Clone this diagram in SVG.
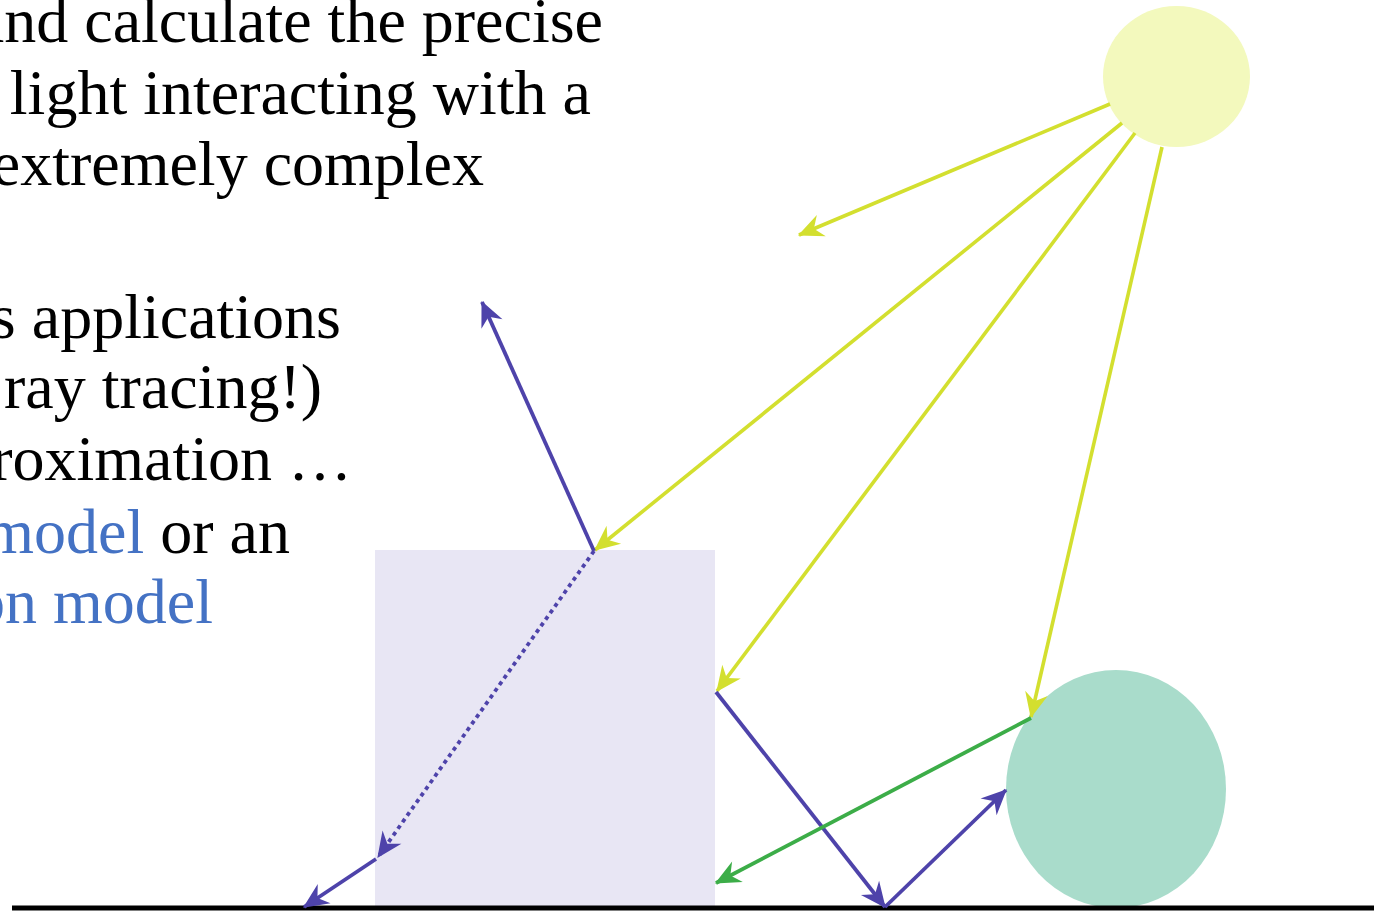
<svg xmlns="http://www.w3.org/2000/svg" width="1381" height="911" viewBox="0 0 1381 911">
<style>
.t{font-family:"Liberation Serif","Times New Roman",serif;font-size:64px;fill:#000;text-anchor:end}
.b{fill:#4472C4}
.y{stroke:#D3DF2F;stroke-width:3.6;fill:none}
.p{stroke:#4E43AA;stroke-width:3.8;fill:none}
.g{stroke:#3CAD48;stroke-width:3.8;fill:none}
</style>
<defs>
<marker id="ay" markerUnits="userSpaceOnUse" markerWidth="30" markerHeight="30" viewBox="-24 -12 26 24" refX="0" refY="0" orient="auto"><path d="M1 0 L-21 -10 L-14 0 L-21 10 Z" fill="#D3DF2F"/></marker>
<marker id="ap" markerUnits="userSpaceOnUse" markerWidth="30" markerHeight="30" viewBox="-24 -12 26 24" refX="0" refY="0" orient="auto"><path d="M1 0 L-21 -10 L-14 0 L-21 10 Z" fill="#4E43AA"/></marker>
<marker id="ag" markerUnits="userSpaceOnUse" markerWidth="30" markerHeight="30" viewBox="-24 -12 26 24" refX="0" refY="0" orient="auto"><path d="M1 0 L-21 -10 L-14 0 L-21 10 Z" fill="#3CAD48"/></marker>
</defs>
<g id="text">
<text class="t" x="603" y="42">and calculate the precise</text>
<text class="t" x="591" y="114">of light interacting with a</text>
<text class="t" x="484" y="185">extremely complex</text>
<text class="t" x="341" y="338">s applications</text>
<text class="t" x="322" y="408">ray tracing!)</text>
<text class="t" x="352" y="480">roximation …</text>
<text class="t" x="290" y="553"><tspan class="b">model</tspan> or an</text>
<text class="t b" x="213" y="623">on model</text>
</g>
<g id="sun"><ellipse cx="1176.5" cy="76.5" rx="73.5" ry="70.5" fill="#F3F9BD"/></g>
<g id="box"><rect x="375" y="550" width="340" height="358" fill="#E8E6F4"/></g>
<g id="ball"><ellipse cx="1116" cy="789" rx="110" ry="119" fill="#A9DCCB"/></g>
<g id="ground"><line x1="12" y1="908" x2="1374" y2="908" stroke="#000" stroke-width="5"/></g>
<g id="connectors">
<line class="y" x1="1110" y1="104" x2="799" y2="235" marker-end="url(#ay)"/>
<line class="y" x1="1122" y1="123" x2="595" y2="550" marker-end="url(#ay)"/>
<line class="y" x1="1135" y1="133" x2="717" y2="691" marker-end="url(#ay)"/>
<line class="y" x1="1162" y1="147" x2="1031" y2="717" marker-end="url(#ay)"/>
<line class="p" x1="594" y1="551" x2="482" y2="302" marker-end="url(#ap)"/>
<line class="p" x1="594" y1="551" x2="378" y2="857" stroke-dasharray="4 4" marker-end="url(#ap)"/>
<line class="p" x1="376" y1="859" x2="304" y2="907" marker-end="url(#ap)"/>
<line class="p" x1="716" y1="692" x2="885" y2="907" marker-end="url(#ap)"/>
<line class="p" x1="885" y1="907" x2="1006" y2="790" marker-end="url(#ap)"/>
<line class="g" x1="1031" y1="718" x2="716" y2="883" marker-end="url(#ag)"/>
</g>
</svg>
